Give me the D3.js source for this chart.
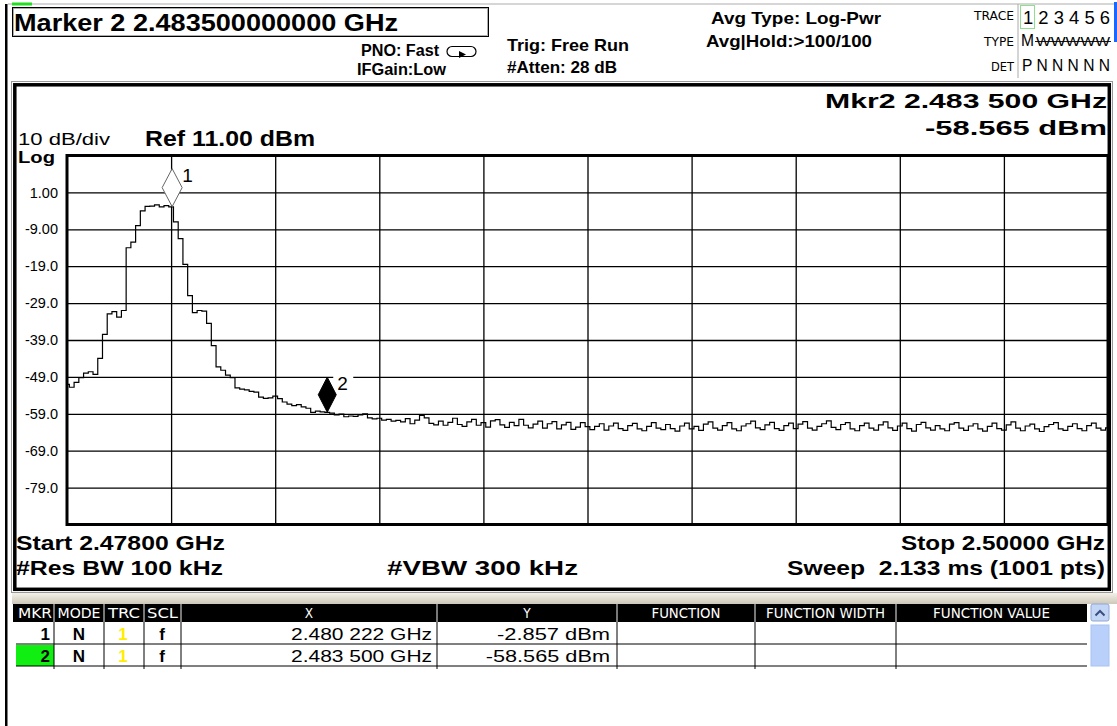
<!DOCTYPE html>
<html>
<head>
<meta charset="utf-8">
<title>Spectrum analyzer - Marker 2</title>
<script src="https://cdn.jsdelivr.net/npm/d3@7/dist/d3.min.js"></script>
<style>
  body { margin: 0; background: #fff; }
  svg text { font-family: "Liberation Sans", Arial, sans-serif; }
  .narrow { font-family: "Liberation Sans Narrow", "DejaVu Sans Condensed", "Liberation Sans", sans-serif; }
</style>
</head>
<body>
<svg width="1117" height="726"></svg>
<script>
// sweep settings (MHz) and trace, one value every 0.1 MHz
var startMHz = 2478, stopMHz = 2500, stepMHz = 0.1;
var refLevel = 11, dbPerDiv = 10;

var traceDbm = [
  -51.0, -51.8, -50.5, -49.2, -48.0, -47.6, -48.3, -44.0, -37.5, -31.9,
  -31.3, -32.8, -31.0, -14.0, -12.5, -8.0, -4.0, -2.8, -2.7, -2.4,
  -2.9, -2.6, -2.9, -7.0, -11.5, -18.5, -27.0, -31.6, -31.0, -31.2,
  -34.5, -40.5, -46.3, -47.2, -48.5, -49.2, -52.0, -52.3, -52.5, -52.9,
  -53.1, -54.5, -54.8, -54.7, -54.2, -54.9, -55.8, -56.4, -56.8, -56.5,
  -57.1, -57.5, -58.6, -58.3, -58.5, -58.6, -58.8, -59.3, -59.1, -59.8,
  -59.6, -59.7, -59.3, -59.0, -60.1, -60.4, -60.2, -60.7, -60.5, -61.0,
  -60.8,
  -61.2, -60.3, -61.7, -60.7, -59.4, -60.1, -61.6, -62.0, -61.0, -62.1, -61.3, -60.2, -61.9, -62.4, -61.2, -60.5, -62.1, -61.4, -62.6, -60.9,
  -60.6, -62.0, -62.7, -61.3, -62.2, -60.5, -62.1, -62.8, -61.8, -61.0, -62.9, -61.7, -61.1, -63.1, -62.0, -61.3, -63.2, -62.6, -61.4, -62.5,
  -63.3, -62.4, -61.7, -63.4, -62.3, -61.5, -63.0, -63.5, -62.2, -61.6, -63.1, -63.6, -62.4, -61.4, -62.9, -63.3, -61.9, -63.0, -63.7, -62.3,
  -61.5, -63.1, -62.4, -63.5, -61.8, -61.2, -62.9, -63.4, -62.2, -61.4, -63.1, -63.6, -62.3, -61.7, -61.0, -62.8, -63.3, -62.0, -61.3, -63.0,
  -63.5, -62.2, -61.5, -63.0, -61.8, -61.1, -62.9, -63.4, -62.4, -61.7, -60.9, -62.7, -63.3, -61.9, -61.4, -63.1, -63.6, -62.2, -61.5, -62.9,
  -63.4, -62.0, -61.2, -62.8, -63.5, -62.3, -61.5, -63.0, -63.7, -61.9, -61.3, -62.8, -63.4, -62.2, -63.1, -63.6, -61.8, -61.4, -62.9, -63.5,
  -62.3, -61.7, -63.1, -63.7, -62.4, -61.5, -63.0, -63.4, -62.0, -61.2, -62.9, -63.6, -62.3, -61.8, -63.1, -63.8, -62.5, -61.9, -61.4, -63.1,
  -63.5, -62.4, -61.7, -63.0, -63.6, -62.2, -61.5, -62.9, -63.4, -62.8
];

var yTickValues = [1, -9, -19, -29, -39, -49, -59, -69, -79];
var yTickLabels = ["1.00", "-9.00", "-19.0", "-29.0", "-39.0", "-49.0", "-59.0", "-69.0", "-79.0"];

// markers
var markerIds = [1, 2];
var markerMHz = [2480.222, 2483.5];
var markerDbm = [-2.857, -58.565];
var markerXText = ["2.480 222 GHz", "2.483 500 GHz"];
var markerYText = ["-2.857 dBm", "-58.565 dBm"];

var tableCols = ["MKR", "MODE", "TRC", "SCL", "X", "Y", "FUNCTION", "FUNCTION WIDTH", "FUNCTION VALUE"];

var svg = d3.select("svg");

// the screen grab is stretched sideways, so most labels get a fixed length
function label(x, y, str, size, o) {
  o = o || {};
  var t = svg.append("text").attr("x", x).attr("y", y).attr("font-size", size)
    .attr("font-weight", o.bold ? "bold" : null)
    .attr("text-anchor", o.anchor || null)
    .attr("fill", o.fill || "#000")
    .attr("xml:space", "preserve")
    .text(str);
  if (o.cls) t.attr("class", o.cls);
  if (o.len) t.attr("textLength", o.len).attr("lengthAdjust", "spacingAndGlyphs");
  return t;
}

var plot = { left: 67, top: 155.5, right: 1108, bottom: 524.5 };
var x = d3.scaleLinear().domain([startMHz, stopMHz]).range([plot.left, plot.right]);
var y = d3.scaleLinear().domain([refLevel - 10 * dbPerDiv, refLevel]).range([plot.bottom, plot.top]);

// ---- top status bar ----
svg.append("line").attr("x1", 8).attr("x2", 1117).attr("y1", 4).attr("y2", 4)
  .attr("stroke", "#c8c8c8").attr("stroke-width", 1.5);
svg.append("rect").attr("x", 12).attr("y", 2.5).attr("width", 20).attr("height", 3).attr("fill", "#22dd22");
svg.append("rect").attr("x", 5).attr("y", 4).attr("width", 2.5).attr("height", 722).attr("fill", "#000");

svg.append("rect").attr("x", 12.5).attr("y", 7.5).attr("width", 476).attr("height", 29)
  .attr("fill", "#fff").attr("stroke", "#000").attr("stroke-width", 1);
svg.append("rect").attr("x", 13.5).attr("y", 8.5).attr("width", 474).attr("height", 27)
  .attr("fill", "none").attr("stroke", "#999").attr("stroke-width", 0.8);
label(14, 31, "Marker 2 2.483500000000 GHz", 23, { bold: true, len: 384 });

label(361, 56, "PNO: Fast", 16, { bold: true, len: 78 });
label(357, 75, "IFGain:Low", 16, { bold: true, len: 89 });
svg.append("path").attr("d", "M452,46.5 h19 a5,5 0 0 1 0,10 h-19 a5,5 0 0 1 0,-10 z")
  .attr("fill", "none").attr("stroke", "#000").attr("stroke-width", 1.2);
svg.append("path").attr("d", "M459,51 l7,3.5 l-7,3.5 z").attr("fill", "#000");

label(507, 51, "Trig: Free Run", 17, { bold: true, len: 122 });
label(507, 73, "#Atten: 28 dB", 17, { bold: true, len: 110 });
label(711, 24, "Avg Type: Log-Pwr", 17, { bold: true, len: 170 });
label(706, 47, "Avg|Hold:>100/100", 17, { bold: true, len: 166 });

// trace status block
svg.append("line").attr("x1", 1018).attr("x2", 1018).attr("y1", 4).attr("y2", 78).attr("stroke", "#aaa");
svg.append("rect").attr("x", 1114).attr("y", 2).attr("width", 3).attr("height", 40).attr("fill", "#1a66ff");
svg.append("rect").attr("x", 1020.5).attr("y", 5.5).attr("width", 14).attr("height", 23)
  .attr("fill", "none").attr("stroke", "#8ee08e");
label(1014, 20, "TRACE", 12.5, { anchor: "end", cls: "narrow", len: 40 });
label(1014, 46, "TYPE", 12.5, { anchor: "end", cls: "narrow", len: 30 });
label(1014, 71, "DET", 12.5, { anchor: "end", cls: "narrow", len: 23 });
label(1023, 24, "1 2 3 4 5 6", 18, { len: 87 });
label(1021, 46, "M", 16, { len: 13 });
label(1036, 46, "WWWWW", 12, { len: 74 });
svg.append("line").attr("x1", 1035).attr("x2", 1111).attr("y1", 41.5).attr("y2", 41.5).attr("stroke", "#000").attr("stroke-width", 0.9);
label(1022, 71, "P N N N N N", 17, { len: 88 });

// ---- main panel ----
svg.append("rect").attr("x", 11.5).attr("y", 81.5).attr("width", 1101).attr("height", 511)
  .attr("fill", "#fff").attr("stroke", "#999").attr("stroke-width", 1);
svg.append("rect").attr("x", 14.8).attr("y", 84.8).attr("width", 1094.5).attr("height", 504.5)
  .attr("fill", "none").attr("stroke", "#000").attr("stroke-width", 3.5);

label(1107, 108, "Mkr2 2.483 500 GHz", 21, { bold: true, anchor: "end", len: 282 });
label(1107, 135, "-58.565 dBm", 21, { bold: true, anchor: "end", len: 182 });

label(18, 145, "10 dB/div", 16, { len: 92 });
label(145, 146, "Ref 11.00 dBm", 22, { bold: true, len: 170 });
label(18, 163, "Log", 16, { bold: true, len: 37 });

// grid
var xGridVals = d3.range(1, 10).map(function (i) { return startMHz + i * (stopMHz - startMHz) / 10; });
svg.append("g").attr("transform", "translate(0," + plot.bottom + ")")
  .call(d3.axisBottom(x).tickValues(xGridVals).tickSize(-(plot.bottom - plot.top)).tickFormat(""))
  .call(function (g) { g.select(".domain").remove(); })
  .selectAll("line").attr("stroke", "#000").attr("stroke-width", 1.3);

var yAxis = svg.append("g").attr("transform", "translate(" + plot.left + ",0)")
  .call(d3.axisLeft(y).tickValues(yTickValues).tickSize(-(plot.right - plot.left)).tickPadding(9)
    .tickFormat(function (d, i) { return yTickLabels[i]; }));
yAxis.select(".domain").remove();
yAxis.selectAll("line").attr("stroke", "#000").attr("stroke-width", 1.3);
yAxis.selectAll("text").attr("font-size", 14.5).attr("fill", "#000")
  .attr("font-family", "\"Liberation Sans\", Arial, sans-serif");

// trace
var tracePts = traceDbm.map(function (v, i) { return [startMHz + i * stepMHz, v]; });
svg.append("path").datum(tracePts)
  .attr("fill", "none").attr("stroke", "#000").attr("stroke-width", 1.2)
  .attr("d", d3.line().x(function (d) { return x(d[0]); }).y(function (d) { return y(d[1]); })
    .curve(d3.curveStep));

// markers
markerIds.forEach(function (id, i) {
  var mx = x(markerMHz[i]), my = y(markerDbm[i]);
  var h = id === 2 ? 35 : 38, w = id === 2 ? 9 : 10;
  if (id === 2) {
    svg.append("rect").attr("x", mx + 6).attr("y", my - h - 2).attr("width", 20).attr("height", 18).attr("fill", "#fff");
  }
  svg.append("path")
    .attr("d", "M" + mx + "," + my + " L" + (mx - w) + "," + (my - h / 2) + " L" + mx + "," + (my - h) +
      " L" + (mx + w) + "," + (my - h / 2) + " Z")
    .attr("fill", id === 2 ? "#000" : "#fff")
    .attr("stroke", id === 2 ? "#000" : "#666").attr("stroke-width", 1);
  label(mx + 10, my - h + 13, String(id), 19);
});

// plot frame
svg.append("rect").attr("x", plot.left).attr("y", plot.top)
  .attr("width", plot.right - plot.left).attr("height", plot.bottom - plot.top)
  .attr("fill", "none").attr("stroke", "#000").attr("stroke-width", 3);

label(16, 550, "Start 2.47800 GHz", 21, { bold: true, len: 209 });
label(16, 575, "#Res BW 100 kHz", 21, { bold: true, len: 207 });
label(387, 575, "#VBW 300 kHz", 21, { bold: true, len: 191 });
label(1105, 550, "Stop 2.50000 GHz", 21, { bold: true, anchor: "end", len: 204 });
label(1105, 575, "Sweep  2.133 ms (1001 pts)", 21, { bold: true, anchor: "end", len: 318 });

// ---- marker table ----
var grad = svg.append("defs").append("linearGradient").attr("id", "strip").attr("x1", 0).attr("x2", 0).attr("y1", 0).attr("y2", 1);
grad.append("stop").attr("offset", "0%").attr("stop-color", "#f4f1e8");
grad.append("stop").attr("offset", "100%").attr("stop-color", "#cdc8ba");
svg.append("rect").attr("x", 12).attr("y", 593).attr("width", 1105).attr("height", 11).attr("fill", "url(#strip)");

var colEdges = [16, 54, 104, 144, 181, 437, 617, 755, 896, 1087];
var headLen = [34, 43, 32, 31, 0, 0, 69, 119, 117];
var headTop = 604, headH = 18, rowH = 22;
svg.append("rect").attr("x", 13).attr("y", headTop).attr("width", 1074).attr("height", headH).attr("fill", "#000");
tableCols.forEach(function (c, i) {
  if (i > 0) {
    svg.append("line").attr("x1", colEdges[i]).attr("x2", colEdges[i]).attr("y1", headTop).attr("y2", headTop + headH)
      .attr("stroke", "#a0a0a0").attr("stroke-width", 1.5);
  }
  label((colEdges[i] + colEdges[i + 1]) / 2, headTop + 14, c, 13.5,
    { anchor: "middle", fill: "#fff", cls: "narrow", len: headLen[i] || null });
});
// scroll bar
svg.append("rect").attr("x", 1091).attr("y", headTop).attr("width", 18).attr("height", headH - 1)
  .attr("fill", "#c4d6f5").attr("stroke", "#8fa8d8").attr("rx", 2);
svg.append("path").attr("d", "M1095.5,615.5 l4.5,-4.5 l4.5,4.5").attr("fill", "none").attr("stroke", "#3a4f80").attr("stroke-width", 2);
svg.append("rect").attr("x", 1091).attr("y", headTop + headH + 3).attr("width", 18).attr("height", 2 * rowH - 3)
  .attr("fill", "#b9d1fa").attr("stroke", "#a9c2f0");

var rowSeps = [54, 104, 144, 181, 437, 617, 755, 896];
markerIds.forEach(function (id, r) {
  var top = headTop + headH + r * rowH;
  if (id === 2) {
    svg.append("rect").attr("x", 16).attr("y", top + 1).attr("width", 38).attr("height", rowH - 1).attr("fill", "#11ee11");
  }
  svg.append("line").attr("x1", 16).attr("x2", 1087).attr("y1", top + rowH).attr("y2", top + rowH)
    .attr("stroke", "#000").attr("stroke-width", 1);
  rowSeps.forEach(function (sx) {
    svg.append("line").attr("x1", sx).attr("x2", sx).attr("y1", top).attr("y2", top + rowH + (r === 1 ? 3 : 0))
      .attr("stroke", "#000").attr("stroke-width", 1);
  });
  var by = top + 17.5;
  label(50, by, String(id), 17, { bold: true, anchor: "end" });
  label(79, by, "N", 17, { bold: true, anchor: "middle" });
  label(123, by, "1", 17, { bold: true, anchor: "middle", fill: "#ffee00" });
  label(162, by, "f", 17, { bold: true, anchor: "middle" });
  label(432, by, markerXText[r], 16, { anchor: "end", len: 141 });
  label(610, by, markerYText[r], 16, { anchor: "end", len: markerYText[r].length * 11.3 });
});
</script>
</body>
</html>
